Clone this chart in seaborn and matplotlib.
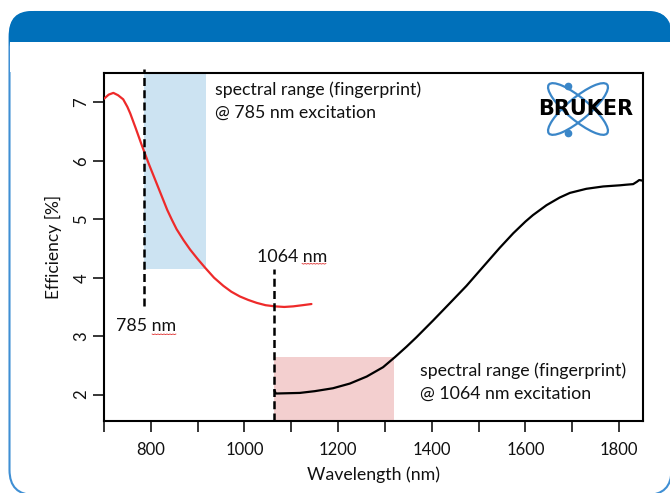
import matplotlib
matplotlib.use("Agg")
import matplotlib.pyplot as plt
import seaborn as sns
import numpy as np
import pandas as pd
from matplotlib.patches import FancyBboxPatch, Rectangle, Ellipse

# ---- data ----
red_wl = [700, 710, 720, 730, 741, 750, 756, 768, 780, 795, 812, 825, 835, 845, 855, 870, 884, 900, 916,
          935, 955, 972, 990, 1008, 1026, 1045, 1065, 1085, 1104, 1124, 1143]
red_eff = [7.06, 7.13, 7.16, 7.12, 7.05, 6.92, 6.81, 6.55, 6.28, 5.96, 5.62, 5.36, 5.16, 4.99, 4.83, 4.64, 4.48, 4.32, 4.17,
           4.00, 3.86, 3.76, 3.68, 3.62, 3.57, 3.53, 3.51, 3.50, 3.51, 3.53, 3.55]

black_wl = [1064, 1067, 1118, 1150, 1189, 1225, 1261, 1296, 1321, 1346, 1367, 1403, 1438, 1474, 1510, 1545, 1574,
            1600, 1616, 1645, 1673, 1695, 1730, 1766, 1802, 1815, 1830, 1838, 1843, 1850]
black_eff = [2.07, 2.02, 2.03, 2.06, 2.11, 2.19, 2.31, 2.47, 2.64, 2.82, 2.98, 3.27, 3.56, 3.86, 4.19, 4.51, 4.76,
             4.96, 5.07, 5.24, 5.37, 5.45, 5.52, 5.56, 5.58, 5.59, 5.60, 5.64, 5.67, 5.66]

x_ticks = [700, 800, 900, 1000, 1100, 1200, 1300, 1400, 1500, 1600, 1700, 1800]
x_ticklabels = ["", "800", "", "1000", "", "1200", "", "1400", "", "1600", "", "1800"]
y_ticks = [2, 3, 4, 5, 6, 7]

exc785 = 785
exc1064 = 1064
blue_span = (785, 918, 4.15)      # x0, x1, lower efficiency
pink_span = (1064, 1320, 2.64)    # x0, x1, upper efficiency

sns.set_style("white")
plt.rcParams['font.family'] = ['Lato', 'DejaVu Sans']

W, H = 670, 493
fig = plt.figure(figsize=(W / 100, H / 100), dpi=100)

# ---- decorative panel ----
bg = fig.add_axes([0, 0, 1, 1])
bg.set_xlim(0, W)
bg.set_ylim(H, 0)
bg.axis('off')
bg.add_patch(FancyBboxPatch((9.5, 12), 662, 483, boxstyle="round,pad=0,rounding_size=25",
                            fc='white', ec='#3f8fd4', lw=1.5))
bg.add_patch(FancyBboxPatch((9, 11), 662, 50, boxstyle="round,pad=0,rounding_size=23",
                            fc='#0070BA', ec='none'))
bg.add_patch(Rectangle((10.3, 42), 661, 30, fc='white', ec='none'))

# ---- main axes ----
ax = fig.add_axes([104 / W, 1 - 421 / H, (642.5 - 104) / W, (421 - 73) / H])
ax.set_facecolor('none')
ylo, yhi = 1.55, 7.5
ax.set_xlim(700, 1850)
ax.set_ylim(ylo, yhi)

ax.fill_between([blue_span[0], blue_span[1]], blue_span[2], yhi, color='#cce3f2', lw=0, zorder=1)
ax.fill_between([pink_span[0], pink_span[1]], ylo, pink_span[2], color='#f3cfcf', lw=0, zorder=1)

df_red = pd.DataFrame({"wl": red_wl, "eff": red_eff})
df_black = pd.DataFrame({"wl": black_wl, "eff": black_eff})
sns.lineplot(data=df_red, x="wl", y="eff", ax=ax, color='#ee2a2a', lw=1.6, sort=False, estimator=None, zorder=3)
sns.lineplot(data=df_black, x="wl", y="eff", ax=ax, color='black', lw=1.6, sort=False, estimator=None, zorder=3)

ax.plot([exc785, exc785], [3.51, 7.56], color='black', lw=1.8, dashes=(3.2, 1.7), clip_on=False, zorder=4)
ax.plot([exc1064, exc1064], [ylo, 4.15], color='black', lw=1.8, dashes=(3.2, 1.7), zorder=4)

for s in ax.spines.values():
    s.set_visible(True)
    s.set_color('black')
    s.set_linewidth(1.5)

ax.set_xticks(x_ticks)
ax.set_xticklabels(x_ticklabels)
ax.set_yticks(y_ticks)
ax.set_yticklabels([str(v) for v in y_ticks])
ax.tick_params(axis='both', direction='out', length=8, width=1.1, color='black',
               labelsize=12, labelcolor='#111111', bottom=True, left=True)
ax.tick_params(axis='x', pad=7)
ax.tick_params(axis='y', pad=2.5, labelrotation=90)
for lab in ax.get_yticklabels():
    lab.set_va('center')
ax.set_xlabel("Wavelength (nm)", fontsize=12.8, color='#111111', labelpad=6)
ax.set_ylabel("Efficiency [%]", fontsize=12.5, color='#111111', labelpad=8)

txt_kw = dict(fontsize=12.8, color='#111111', va='center', ha='left', zorder=5)
ax.text(937, 7.22, "spectral range (fingerprint)", **txt_kw)
ax.text(937, 6.82, "@ 785 nm excitation", **txt_kw)
ax.text(1374, 2.41, "spectral range (fingerprint)", **txt_kw)
ax.text(1374, 2.02, "@ 1064 nm excitation", **txt_kw)
ax.text(726, 3.18, "785 nm", **txt_kw)
ax.text(1027, 4.35, "1064 nm", **txt_kw)

# spell-check squiggles under "nm"
def squiggle(x0, x1, y):
    xs = np.arange(x0, x1 + 0.1, 1.5)
    ys = y + 0.6 * (np.arange(len(xs)) % 2)
    bg.plot(xs, ys, color='#e03030', lw=0.6)
squiggle(152, 176, 334)
squiggle(302, 327, 263.5)

# ---- logo ----
lg = fig.add_axes([530 / W, 1 - 140 / H, 110 / W, 60 / H])
lg.set_xlim(0, 110)
lg.set_ylim(60, 0)
lg.axis('off')
cx, cy = 48, 29
for ang in (40, -40):
    lg.add_patch(Ellipse((cx, cy), 76, 22, angle=ang, fill=False, ec='#3a86c8', lw=1.6))
lg.plot([38, 38], [6, 53], 'o', color='#3a86c8', ms=4.5)
lg.text(56, 29, "BRUKER", fontsize=15, fontweight='heavy', family='DejaVu Sans',
        ha='center', va='center', color='black', zorder=5)

fig.savefig("out.png", dpi=100)
